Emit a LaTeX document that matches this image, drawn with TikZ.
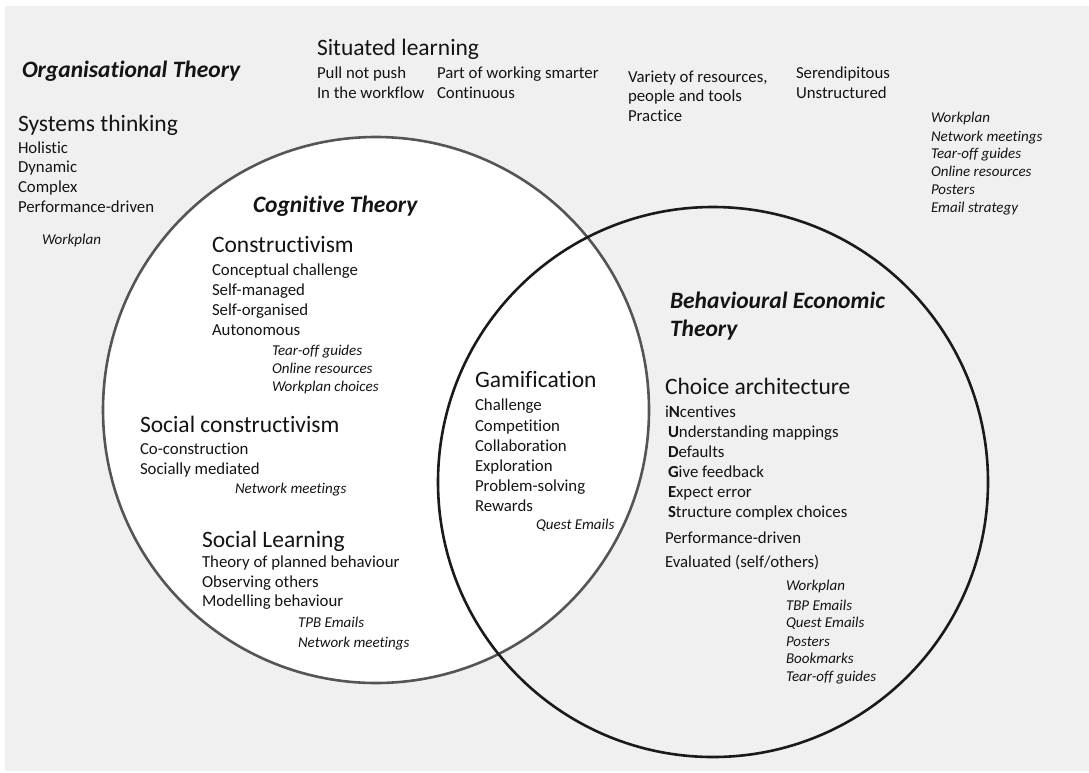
\documentclass[tikz,border=0pt]{standalone}
\usepackage{fontspec}
\setmainfont{Carlito}[Ligatures=NoCommon]
\definecolor{bggray}{HTML}{F0F0F0}
\definecolor{txt}{HTML}{141414}
\definecolor{cogline}{HTML}{555555}
\definecolor{behline}{HTML}{1A1A1A}
\begin{document}
\begin{tikzpicture}[x=1pt,y=-1pt,
  every node/.style={inner sep=0pt,outer sep=0pt,anchor=base west,text=txt},
  small/.style={font=\fontsize{16.8}{19}\selectfont},
  head/.style={font=\fontsize{23.5}{26}\selectfont},
  ital/.style={font=\fontsize{15}{17}\selectfont\itshape},
  ttl/.style={font=\fontsize{23.5}{26}\selectfont\bfseries\itshape}]
\useasboundingbox (0,0) rectangle (1089,772);
\fill[bggray] (5,6) rectangle (1089,771);
% circles
\draw[cogline,line width=2.6pt,fill=white] (376,410) circle[radius=273];
\draw[behline,line width=2.6pt] (713,482) circle[radius=275];

% Organisational theory
\node[ttl] (ot) at (22,77) {Organisational Theory};
\node[head] (st) at (18,131) {Systems thinking};
\node[small] (st1) at (18,153) {Holistic};
\node[small] (st2) at (18,172) {Dynamic};
\node[small] (st3) at (18,192) {Complex};
\node[small] (st4) at (18,212) {Performance-driven};
\node[ital] (st5) at (42,244) {Workplan};

% Situated learning
\node[head] (sl) at (317,55) {Situated learning};
\node[small] (sl1) at (317,78) {Pull not push};
\node[small] (sl2) at (317,98) {In the workflow};
\node[small] (sl3) at (437,78) {Part of working smarter};
\node[small] (sl4) at (437,98) {Continuous};
\node[small] (sl5) at (628,82) {Variety of resources,};
\node[small] (sl6) at (628,101) {people and tools};
\node[small] (sl7) at (628,121) {Practice};
\node[small] (sl8) at (796,78) {Serendipitous};
\node[small] (sl9) at (796,98) {Unstructured};

% top right resources
\node[ital] (tr1) at (931,122) {Workplan};
\node[ital] (tr2) at (931,141) {Network meetings};
\node[ital] (tr3) at (931,158) {Tear-off guides};
\node[ital] (tr4) at (931,176) {Online resources};
\node[ital] (tr5) at (931,194) {Posters};
\node[ital] (tr6) at (931,212) {Email strategy};

% Cognitive theory
\node[ttl] (ct) at (253,212) {Cognitive Theory};
\node[head] (cn) at (212,252) {Constructivism};
\node[small] (cn1) at (212,275) {Conceptual challenge};
\node[small] (cn2) at (212,295) {Self-managed};
\node[small] (cn3) at (212,315) {Self-organised};
\node[small] (cn4) at (212,335) {Autonomous};
\node[ital] (cn5) at (272,355) {Tear-off guides};
\node[ital] (cn6) at (272,373) {Online resources};
\node[ital] (cn7) at (272,391) {Workplan choices};

\node[head] (sc) at (140,432) {Social constructivism};
\node[small] (sc1) at (140,454) {Co-construction};
\node[small] (sc2) at (140,474) {Socially mediated};
\node[ital] (sc3) at (235,493) {Network meetings};

\node[head] (sln) at (202,547) {Social Learning};
\node[small] (sln1) at (202,567) {Theory of planned behaviour};
\node[small] (sln2) at (202,587) {Observing others};
\node[small] (sln3) at (202,606) {Modelling behaviour};
\node[ital] (sln4) at (298,627) {TPB Emails};
\node[ital] (sln5) at (298,647) {Network meetings};

% Gamification
\node[head] (gm) at (475,387) {Gamification};
\node[small] (gm1) at (475,410) {Challenge};
\node[small] (gm2) at (475,431) {Competition};
\node[small] (gm3) at (475,451) {Collaboration};
\node[small] (gm4) at (475,471) {Exploration};
\node[small] (gm5) at (475,491) {Problem-solving};
\node[small] (gm6) at (475,511) {Rewards};
\node[ital] (gm7) at (536,529) {Quest Emails};

% Behavioural economic theory
\node[ttl] (bt1) at (670,308) {Behavioural Economic};
\node[ttl] (bt2) at (670,336) {Theory};
\node[head] (ca) at (665,394) {Choice architecture};
\node[small] (ca1) at (665,417) {i\textbf{N}centives};
\node[small] (ca2) at (668,437) {\textbf{U}nderstanding mappings};
\node[small] (ca3) at (668,457) {\textbf{D}efaults};
\node[small] (ca4) at (668,477) {\textbf{G}ive feedback};
\node[small] (ca5) at (668,497) {\textbf{E}xpect error};
\node[small] (ca6) at (668,517) {\textbf{S}tructure complex choices};
\node[small] (ca7) at (665,543) {Performance-driven};
\node[small] (ca8) at (665,567) {Evaluated (self/others)};
\node[ital] (br1) at (786,590) {Workplan};
\node[ital] (br2) at (786,610) {TBP Emails};
\node[ital] (br3) at (786,627) {Quest Emails};
\node[ital] (br4) at (786,646) {Posters};
\node[ital] (br5) at (786,663) {Bookmarks};
\node[ital] (br6) at (786,681) {Tear-off guides};
\end{tikzpicture}
\end{document}
